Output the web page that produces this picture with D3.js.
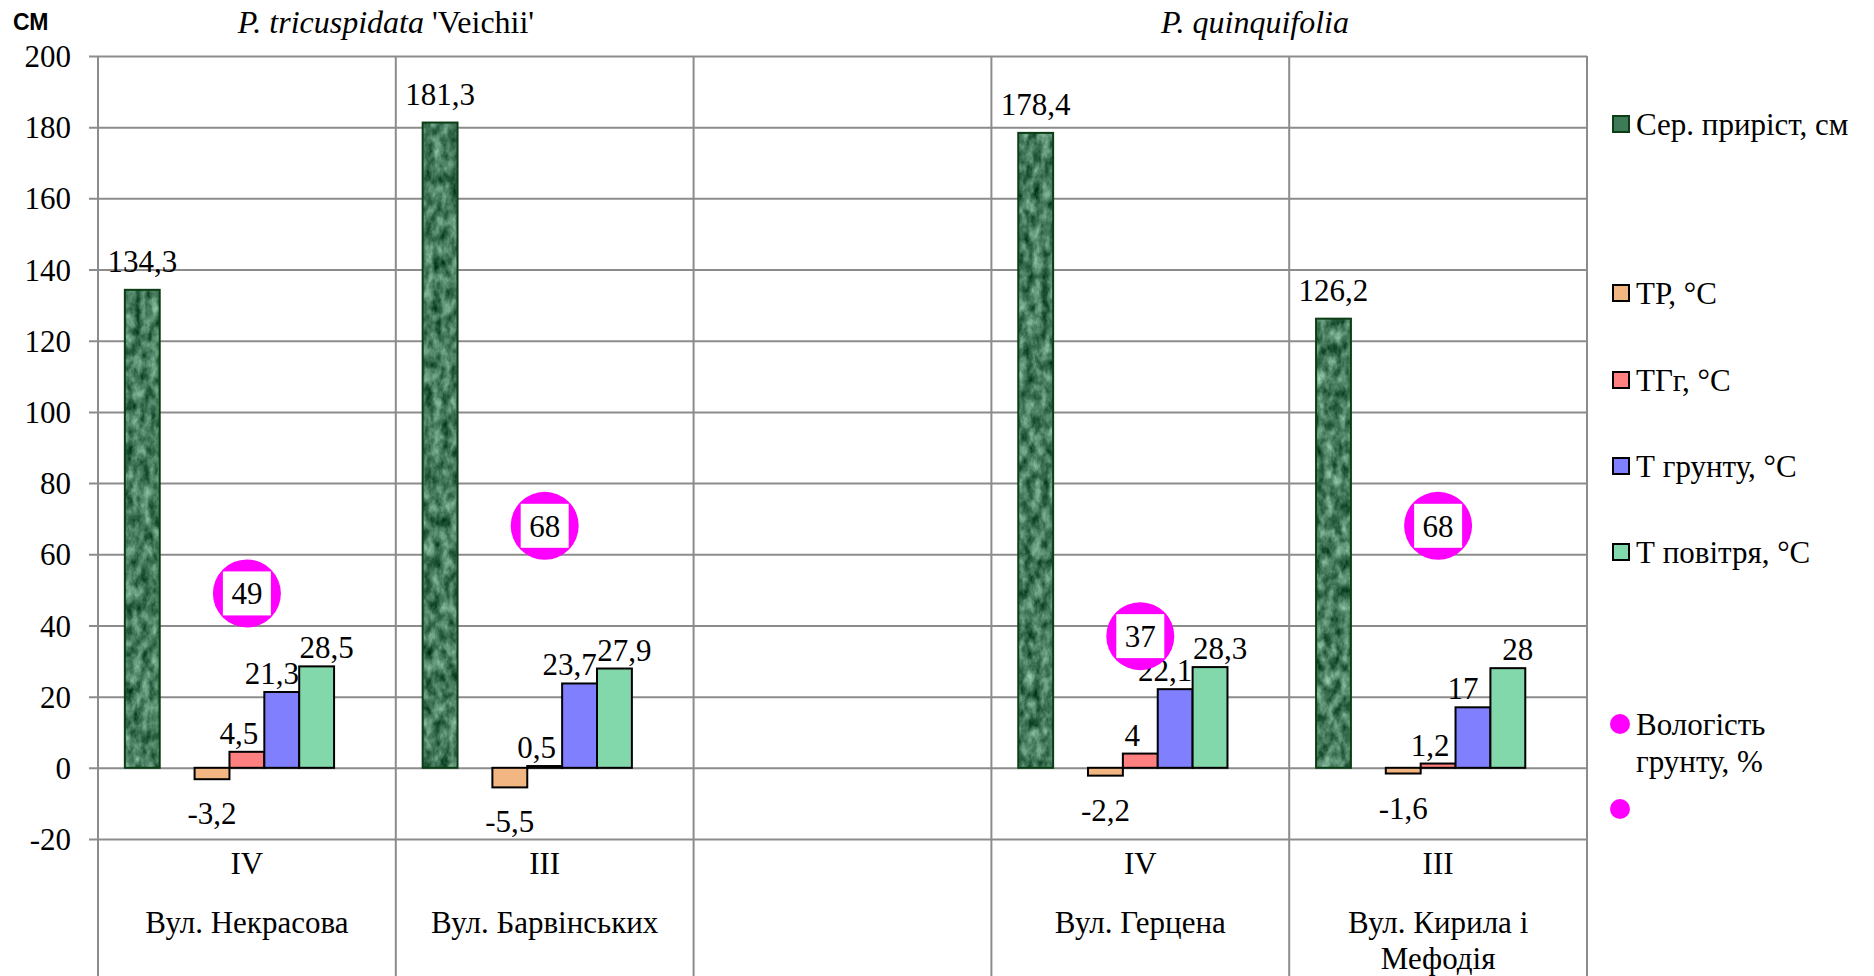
<!DOCTYPE html>
<html>
<head>
<meta charset="utf-8">
<script src="https://cdn.jsdelivr.net/npm/d3@7"></script>
<style>
  html, body { margin: 0; padding: 0; background: #fff; }
  svg { display: block; }
  text { font-family: "Liberation Serif", "Times New Roman", serif; fill: #000; }
  text.sans { font-family: "Liberation Sans", Arial, sans-serif; }
</style>
</head>
<body>
<svg id="chart" width="1874" height="976"></svg>
<script>
// ---------- data ----------
const levels = ["IV", "III", "", "IV", "III"];
const streets = [["Вул. Некрасова"], ["Вул. Барвінських"], [], ["Вул. Герцена"], ["Вул. Кирила і", "Мефодія"]];
const growth = [134.3, 181.3, null, 178.4, 126.2];
const tempTR = [-3.2, -5.5, null, -2.2, -1.6];
const tempTGg = [4.5, 0.5, null, 4, 1.2];
const tempSoil = [21.3, 23.7, null, 22.1, 17];
const tempAir = [28.5, 27.9, null, 28.3, 28];
const humidity = [49, 68, null, 37, 68];
const yTicks = [-20, 0, 20, 40, 60, 80, 100, 120, 140, 160, 180, 200];
const seriesNames = ["Сер. приріст, см", "ТР, °С", "ТГг, °С", "Т грунту, °С", "Т повітря, °С", "Вологість грунту, %"];

// ---------- setup ----------
const svg = d3.select("#chart");
const fmt = v => String(v).replace(".", ",");
const FS = 31;

const X0 = 98, X1 = 1587, YTOP = 56, YBOT = 839, BOTTOM = 976;
const catIdx = d3.range(levels.length);
const x = d3.scaleBand().domain(catIdx).range([X0, X1]).paddingInner(0).paddingOuter(0);
const slots = ["growth", "gap1", "tr", "tgg", "soil", "air", "gap2"];
const xs = d3.scaleBand().domain(slots).range([0, x.bandwidth()]).paddingInner(0).paddingOuter(0.77);
const y = d3.scaleLinear().domain([-20, 200]).range([YBOT, YTOP]);

// texture for growth bars
const defs = svg.append("defs");
const f = defs.append("filter").attr("id", "marble").attr("x", 0).attr("y", 0).attr("width", 1).attr("height", 1)
  .attr("filterUnits", "objectBoundingBox").attr("color-interpolation-filters", "sRGB");
f.append("feTurbulence").attr("type", "fractalNoise").attr("baseFrequency", "0.12 0.07").attr("numOctaves", 4).attr("seed", 11).attr("result", "noise");
f.append("feColorMatrix").attr("in", "noise").attr("type", "matrix")
  .attr("values", "0.75 0 0 0 -0.10  0.75 0 0 0 0.11  0.75 0 0 0 -0.01  0 0 0 0 1").attr("result", "col");
f.append("feComposite").attr("in", "col").attr("in2", "SourceGraphic").attr("operator", "in");

const gridColor = "#8c8c8c";

// horizontal gridlines + y tick labels
const yAxis = d3.axisLeft(y).tickValues(yTicks).tickSize(X1 - X0 + 9).tickPadding(18).tickFormat(d => d);
const gy = svg.append("g").attr("transform", `translate(${X1},0)`).call(yAxis);
gy.select(".domain").remove();
gy.selectAll(".tick line").attr("stroke", gridColor).attr("stroke-width", 2);
gy.selectAll(".tick text").attr("font-size", FS).attr("font-family", null).attr("fill", "#000").attr("dy", "0.34em");
gy.attr("font-family", null).attr("font-size", null);

// vertical category separators
const bounds = catIdx.map(i => x(i)).concat([X1]);
svg.append("g").selectAll("line").data(bounds).join("line")
  .attr("x1", d => d).attr("x2", d => d).attr("y1", YTOP).attr("y2", BOTTOM)
  .attr("stroke", gridColor).attr("stroke-width", 2);

// category labels
const cat = svg.append("g");
cat.selectAll("text.lvl").data(catIdx).join("text").attr("class", "lvl")
  .attr("x", i => x(i) + x.bandwidth() / 2).attr("y", 874)
  .attr("text-anchor", "middle").attr("font-size", FS).text(i => levels[i]);
catIdx.forEach(i => {
  streets[i].forEach((s, k) => {
    cat.append("text").attr("x", x(i) + x.bandwidth() / 2).attr("y", 933 + k * 36)
      .attr("text-anchor", "middle").attr("font-size", FS).text(s);
  });
});

// bars
const series = [
  { key: "tr", vals: tempTR, fill: "#f2b683", dx: 0 },
  { key: "tgg", vals: tempTGg, fill: "#ff8080", dx: -8 },
  { key: "soil", vals: tempSoil, fill: "#8080ff", dx: -10 },
  { key: "air", vals: tempAir, fill: "#82d8aa", dx: 10 }
];
const bars = svg.append("g");
series.forEach(s => {
  const d = catIdx.filter(i => s.vals[i] !== null);
  bars.selectAll(null).data(d).join("rect")
    .attr("x", i => x(i) + xs(s.key)).attr("width", xs.bandwidth())
    .attr("y", i => y(Math.max(0, s.vals[i]))).attr("height", i => Math.abs(y(s.vals[i]) - y(0)))
    .attr("fill", s.fill).attr("stroke", "#000").attr("stroke-width", 2);
});
const gd = catIdx.filter(i => growth[i] !== null);
bars.selectAll(null).data(gd).join("rect")
  .attr("x", i => x(i) + xs("growth")).attr("width", xs.bandwidth())
  .attr("y", i => y(growth[i])).attr("height", i => y(0) - y(growth[i]))
  .attr("fill", "#3f7a58").attr("filter", "url(#marble)");
bars.selectAll(null).data(gd).join("rect")
  .attr("x", i => x(i) + xs("growth")).attr("width", xs.bandwidth())
  .attr("y", i => y(growth[i])).attr("height", i => y(0) - y(growth[i]))
  .attr("fill", "none").attr("stroke", "#0c3d14").attr("stroke-width", 2);

// data labels
const labels = svg.append("g");
const allSeries = [{ key: "growth", vals: growth, dx: 0, above: 18 }].concat(series.map(s => Object.assign({ above: 8 }, s)));
allSeries.forEach(s => {
  const d = catIdx.filter(i => s.vals[i] !== null);
  labels.selectAll(null).data(d).join("text")
    .attr("x", i => x(i) + xs(s.key) + xs.bandwidth() / 2 + s.dx)
    .attr("y", i => s.vals[i] >= 0 ? y(s.vals[i]) - s.above : y(s.vals[i]) + 45)
    .attr("text-anchor", "middle").attr("font-size", FS)
    .text(i => fmt(s.vals[i]));
});

// humidity markers
const hd = catIdx.filter(i => humidity[i] !== null);
const hm = svg.append("g").selectAll("g").data(hd).join("g")
  .attr("transform", i => `translate(${x(i) + x.bandwidth() / 2},${y(humidity[i])})`);
hm.append("circle").attr("r", 34).attr("fill", "#ff00ff");
hm.append("rect").attr("x", -24).attr("y", -22).attr("width", 48).attr("height", 44).attr("fill", "#fff");
hm.append("text").attr("text-anchor", "middle").attr("dy", "0.35em").attr("font-size", FS).text(i => humidity[i]);

// titles
svg.append("text").attr("class", "sans").attr("x", 13).attr("y", 30).attr("font-weight", "bold")
  .attr("font-size", 23).text("СМ");
const t1 = svg.append("text").attr("x", 386).attr("y", 33).attr("text-anchor", "middle").attr("font-size", 32);
t1.append("tspan").attr("font-style", "italic").text("P. tricuspidata ");
t1.append("tspan").text("'Veichii'");
svg.append("text").attr("x", 1255).attr("y", 33).attr("text-anchor", "middle").attr("font-size", 32)
  .attr("font-style", "italic").text("P. quinquifolia");

// legend
const lg = svg.append("g");
const legendItems = [
  { name: seriesNames[0], y: 124, fill: "#3f7a58", stroke: "#0c3d14" },
  { name: seriesNames[1], y: 293, fill: "#f2b683", stroke: "#000" },
  { name: seriesNames[2], y: 380, fill: "#ff8080", stroke: "#000" },
  { name: seriesNames[3], y: 466, fill: "#8080ff", stroke: "#000" },
  { name: seriesNames[4], y: 552, fill: "#82d8aa", stroke: "#000" }
];
legendItems.forEach(it => {
  lg.append("rect").attr("x", 1613).attr("y", it.y - 8).attr("width", 16).attr("height", 16)
    .attr("fill", it.fill).attr("stroke", it.stroke).attr("stroke-width", 2);
  lg.append("text").attr("x", 1636).attr("y", it.y).attr("dy", "0.35em").attr("font-size", FS).text(it.name);
});
const humWords = seriesNames[5].split(" ");
lg.append("circle").attr("cx", 1620).attr("cy", 724).attr("r", 10).attr("fill", "#ff00ff");
lg.append("text").attr("x", 1636).attr("y", 724).attr("dy", "0.35em").attr("font-size", FS).text(humWords[0]);
lg.append("text").attr("x", 1636).attr("y", 761).attr("dy", "0.35em").attr("font-size", FS).text(humWords.slice(1).join(" "));
lg.append("circle").attr("cx", 1620).attr("cy", 809).attr("r", 10).attr("fill", "#ff00ff");
</script>
</body>
</html>
